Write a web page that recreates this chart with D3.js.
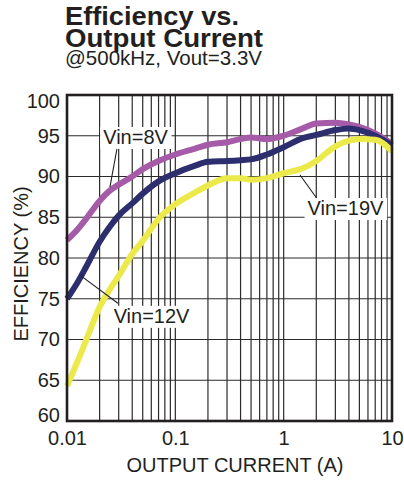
<!DOCTYPE html>
<html>
<head>
<meta charset="utf-8">
<script src="https://cdn.jsdelivr.net/npm/d3@7"></script>
<style>
  html, body { margin: 0; padding: 0; background: #fff; }
  svg { display: block; font-family: "Liberation Sans", Arial, Helvetica, sans-serif; }
</style>
</head>
<body>
<svg id="chart" width="404" height="480"></svg>
<script>
// Output current (A), shared by all three curves
const current = [0.01, 0.0125, 0.015, 0.02, 0.025, 0.03, 0.04, 0.05, 0.07, 0.1,
                 0.15, 0.2, 0.3, 0.4, 0.5, 0.7, 1, 1.5, 2, 3, 4, 5, 7, 10];

// Efficiency (%) for each input voltage
const vin8  = [82.2, 83.5, 84.8, 87.0, 88.3, 89.0, 90.0, 90.9, 91.9, 92.7,
               93.4, 93.9, 94.2, 94.6, 94.8, 94.6, 95.0, 95.9, 96.5, 96.6, 96.4, 96.1, 95.3, 94.0];
const vin12 = [75.0, 77.0, 78.9, 82.0, 83.9, 85.2, 86.7, 87.9, 89.4, 90.4,
               91.3, 91.8, 91.9, 92.0, 92.1, 92.7, 93.6, 94.7, 95.1, 95.7, 95.9, 95.7, 95.0, 93.8];
const vin19 = [64.3, 67.3, 69.9, 74.0, 76.2, 77.8, 80.5, 82.1, 84.8, 86.6,
               88.0, 88.9, 89.8, 89.8, 89.6, 89.8, 90.4, 91.0, 91.9, 93.7, 94.4, 94.6, 94.5, 93.1];

const seriesColors = ["#a65ba9", "#2c2e6e", "#ece94a"];

const xTickValues = [0.01, 0.1, 1, 10];
const xTickLabels = ["0.01", "0.1", "1", "10"];
const yTickValues = [60, 65, 70, 75, 80, 85, 90, 95, 100];

// Callouts: label centre and the two ends of each leader line (data units)
const calloutText   = ["Vin=8V", "Vin=12V", "Vin=19V"];
const calloutLabelX = [0.0429, 0.0603, 3.72];
const calloutLabelY = [94.85, 72.9, 86.13];
const calloutFromX  = [0.029, 0.0295, 2.02];
const calloutFromY  = [93.5, 74.44, 87.33];
const calloutToX    = [0.0249, 0.01347, 1.416];
const calloutToY    = [88.7, 77.8, 90.18];

const svg = d3.select("#chart");

// Title block
const title = svg.append("text").attr("fill", "#231f20");
title.append("tspan").attr("x", 65).attr("y", 25)
  .attr("font-size", 25).attr("font-weight", "bold")
  .attr("textLength", 174).attr("lengthAdjust", "spacingAndGlyphs")
  .text("Efficiency vs.");
title.append("tspan").attr("x", 65).attr("y", 46.5)
  .attr("font-size", 25).attr("font-weight", "bold")
  .attr("textLength", 198).attr("lengthAdjust", "spacingAndGlyphs")
  .text("Output Current");
title.append("tspan").attr("x", 65).attr("y", 65)
  .attr("font-size", 21)
  .attr("textLength", 197).attr("lengthAdjust", "spacingAndGlyphs")
  .text("@500kHz, Vout=3.3V");

const x = d3.scaleLog().domain([0.01, 10]).range([67, 392]);
const y = d3.scaleLinear().domain([60, 100]).range([421, 95]);

// Grid
const grid = svg.append("g").attr("stroke", "#2b2b2b").attr("stroke-width", 1.2);
grid.selectAll("line.v").data(x.ticks()).join("line")
  .attr("x1", d => x(d)).attr("x2", d => x(d))
  .attr("y1", y(60)).attr("y2", y(100));
grid.selectAll("line.h").data(yTickValues).join("line")
  .attr("x1", x(0.01)).attr("x2", x(10))
  .attr("y1", d => y(d)).attr("y2", d => y(d));

// Curves
const line = d3.line()
  .x(d => x(d[0])).y(d => y(d[1]))
  .curve(d3.curveMonotoneX);
[vin8, vin12, vin19].forEach((vals, i) => {
  svg.append("path")
    .datum(current.map((c, j) => [c, vals[j]]))
    .attr("fill", "none")
    .attr("stroke", seriesColors[i])
    .attr("stroke-width", 6)
    .attr("stroke-linejoin", "round")
    .attr("d", line);
});

// Frame
svg.append("rect")
  .attr("x", x(0.01)).attr("y", y(100))
  .attr("width", x(10) - x(0.01)).attr("height", y(60) - y(100))
  .attr("fill", "none").attr("stroke", "#231f20").attr("stroke-width", 2.6);

// Callouts
calloutText.forEach((t, i) => {
  const g = svg.append("g");
  g.append("line")
    .attr("x1", x(calloutFromX[i])).attr("y1", y(calloutFromY[i]))
    .attr("x2", x(calloutToX[i])).attr("y2", y(calloutToY[i]))
    .attr("stroke", "#231f20").attr("stroke-width", 1.1);
  const txt = g.append("text")
    .attr("x", x(calloutLabelX[i])).attr("y", y(calloutLabelY[i]))
    .attr("text-anchor", "middle").attr("dominant-baseline", "central")
    .attr("font-size", 20).attr("fill", "#231f20")
    .text(t);
  const bb = txt.node().getBBox();
  g.insert("rect", "text")
    .attr("x", bb.x - 3).attr("y", bb.y + 1)
    .attr("width", bb.width + 6).attr("height", bb.height)
    .attr("fill", "#fff");
});

// Axes
const yAxis = svg.append("g")
  .attr("transform", `translate(${x(0.01)},0)`)
  .call(d3.axisLeft(y).tickValues(yTickValues).tickSize(0).tickPadding(7));
yAxis.select(".domain").remove();
yAxis.selectAll("text")
  .attr("font-size", 20).attr("fill", "#231f20")
  .attr("font-family", "Liberation Sans, Arial, sans-serif")
  .attr("dy", d => d === 100 ? "0.62em" : d === 60 ? "0.02em" : "0.32em");

const xAxis = svg.append("g")
  .attr("transform", `translate(0,${y(60)})`)
  .call(d3.axisBottom(x).tickValues(xTickValues)
    .tickFormat((d, i) => xTickLabels[i]).tickSize(0).tickPadding(10));
xAxis.select(".domain").remove();
xAxis.selectAll("text")
  .attr("font-size", 20).attr("fill", "#231f20")
  .attr("font-family", "Liberation Sans, Arial, sans-serif");

svg.append("text")
  .attr("x", 235).attr("y", 471.5)
  .attr("text-anchor", "middle").attr("font-size", 20).attr("fill", "#231f20")
  .text("OUTPUT CURRENT (A)");
svg.append("text")
  .attr("transform", "translate(28,264) rotate(-90)")
  .attr("text-anchor", "middle").attr("font-size", 20).attr("fill", "#231f20")
  .text("EFFICIENCY (%)");
</script>
</body>
</html>
